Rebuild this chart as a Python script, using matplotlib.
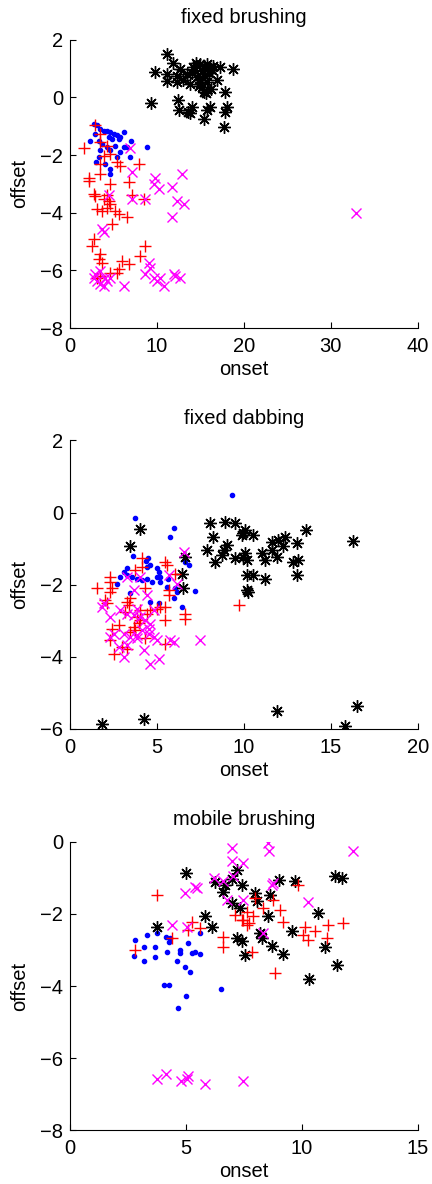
import numpy as np
import matplotlib
matplotlib.use('Agg')
import matplotlib.pyplot as plt

plt.rcParams['font.family'] = ['Liberation Sans', 'DejaVu Sans']

# ---------------- fixed brushing ----------------
fb_black_x = [11.2, 9.74, 11.85, 11.2, 11.2, 12.3, 12.3, 12.7, 13.8, 14.0, 14.2, 14.5, 15.0, 15.4, 15.75,
              16.1, 16.5, 17.3, 14.6, 15.0, 15.2, 15.5, 15.8, 16.0, 16.3, 14.8, 15.2, 15.4, 16.9, 14.4,
              13.5, 18.8, 9.3, 12.4, 12.5, 13.6, 13.8, 14.0, 15.4, 15.8, 16.1, 17.85, 18.05, 17.85, 17.7,
              15.6, 16.2, 13.0]
fb_black_y = [1.52, 0.88, 1.19, 0.82, 0.57, 0.55, 0.75, 1.0, 0.48, 0.85, 1.05, 1.2, 1.15, 1.1, 1.17,
              1.05, 1.1, 1.05, 0.7, 0.6, 0.9, 0.75, 0.55, 0.85, 0.95, 0.4, 0.36, 0.2, 0.6, 0.95,
              0.8, 0.97, -0.2, -0.08, -0.45, -0.5, -0.55, -0.35, -0.74, -0.44, -0.35, 0.2, -0.35, -0.52, -1.03,
              0.15, 0.3, 0.6]
fb_blue_x = [2.74, 3.12, 3.5, 3.88, 4.27, 4.65, 5.03, 5.42, 5.8, 6.18, 4.46, 4.84, 5.6, 7.06, 2.28, 2.93,
             3.3, 3.7, 3.42, 4.27, 4.65, 5.22, 6.18, 6.56, 8.86, 6.95, 5.8, 5.42, 3.0, 4.08, 4.65, 4.57, 3.3]
fb_blue_y = [-0.92, -0.97, -1.09, -1.15, -1.15, -1.2, -1.26, -1.32, -1.38, -1.2, -1.38, -1.44, -1.44, -1.5,
             -1.5, -1.26, -1.5, -1.61, -1.84, -1.73, -1.84, -1.67, -1.73, -1.73, -1.73, -2.05, -1.9, -2.08,
             -2.25, -2.31, -2.48, -2.65, -2.08]
fb_red_x = [2.86, 1.59, 3.5, 3.5, 4.27, 4.65, 3.88, 3.5, 5.42, 5.8, 7.9, 3.5, 2.16, 2.16, 4.65, 6.75,
            2.73, 2.93, 3.88, 4.46, 4.65, 3.12, 3.69, 4.27, 5.22, 5.6, 6.56, 4.84, 2.73, 2.55, 3.5, 3.31,
            3.69, 5.99, 6.75, 5.6, 4.65, 3.12, 3.5, 5.42, 8.09, 8.67, 7.14, 8.48, 4.27]
fb_red_y = [-0.95, -1.76, -1.26, -1.55, -1.67, -1.96, -2.02, -2.31, -2.25, -2.37, -2.31, -2.65, -2.8,
            -2.89, -3.0, -2.95, -3.35, -3.41, -3.52, -3.58, -3.7, -3.87, -3.93, -3.82, -3.93, -4.05,
            -4.16, -4.4, -4.91, -5.15, -5.44, -5.61, -5.73, -5.67, -5.78, -5.96, -6.08, -6.25, -6.2,
            -6.08, -5.5, -5.15, -3.38, -3.52, -3.38]
fb_mag_x = [6.95, 7.1, 9.8, 12.9, 32.9, 9.62, 10.2, 11.73, 12.3, 13.07, 11.73, 3.69, 3.88, 7.14, 8.67,
            4.46, 9.05, 9.24, 8.67, 9.62, 10.0, 10.4, 10.77, 11.92, 12.1, 12.7, 6.18, 2.73, 3.12, 3.5,
            3.88, 4.27, 4.65, 3.5, 4.08, 2.93]
fb_mag_y = [-1.76, -2.6, -2.8, -2.65, -4.01, -3.0, -3.18, -3.12, -3.58, -3.7, -4.16, -4.57, -4.68, -3.52,
            -3.52, -3.38, -5.73, -5.9, -6.13, -6.25, -6.37, -6.25, -6.54, -6.13, -6.2, -6.25, -6.54,
            -6.25, -6.37, -6.48, -6.54, -6.37, -6.25, -6.02, -6.25, -6.13]

# ---------------- fixed dabbing ----------------
fd_black_x = [4.04, 3.47, 8.06, 8.92, 9.5, 8.25, 7.87, 8.83, 9.02, 8.73, 8.35, 9.5, 9.88, 10.07, 9.95,
              6.63, 6.44, 1.85, 4.23, 6.5, 10.17, 9.97, 10.55, 13.6, 16.28, 10.07, 10.17, 11.03, 11.22,
              11.6, 11.6, 11.98, 11.89, 12.37, 12.27, 13.04, 12.84, 13.13, 10.17, 10.55, 11.22, 13.04,
              10.26, 11.89, 16.48, 15.8]
fd_black_y = [-0.46, -0.92, -0.29, -0.25, -0.29, -0.67, -1.04, -1.04, -0.9, -1.18, -1.36, -1.27, -0.62,
              -0.48, -1.22, -1.22, -1.69, -5.86, -5.72, -2.1, -2.15, -0.57, -0.62, -0.48, -0.8, -1.13,
              -1.31, -1.13, -1.31, -0.81, -1.04, -0.76, -1.22, -0.67, -0.94, -0.85, -1.36, -1.31, -1.73,
              -1.73, -1.83, -1.73, -2.2, -5.49, -5.35, -5.91]
fd_blue_x = [9.3, 3.76, 5.96, 5.73, 3.62, 4.47, 4.39, 4.58, 4.43, 3.09, 3.28, 5.0, 5.1, 5.19, 6.82, 6.63,
             5.61, 2.71, 2.9, 3.28, 3.57, 3.86, 4.14, 4.43, 4.71, 5.0, 5.19, 5.58, 6.06, 6.15, 7.2, 5.96,
             4.62, 3.43, 6.44, 5.1]
fd_blue_y = [0.48, -0.15, -0.43, -0.68, -1.2, -1.27, -1.33, -1.45, -1.5, -1.64, -1.55, -1.55, -1.64,
             -1.78, -1.45, -1.36, -1.83, -1.97, -1.78, -1.73, -1.78, -1.83, -1.87, -1.85, -1.92, -1.78,
             -1.92, -2.06, -2.1, -2.2, -2.17, -2.38, -2.48, -2.22, -2.62, -2.52]
fd_red_x = [1.56, 2.32, 2.42, 2.32, 2.13, 2.04, 3.28, 3.47, 3.38, 3.19, 4.43, 4.62, 5.0, 5.19, 5.48,
            5.48, 5.67, 5.67, 6.63, 6.63, 3.86, 4.04, 3.95, 3.66, 3.76, 3.47, 2.8, 2.42, 2.32, 2.51,
            2.99, 3.28, 4.33, 5.48, 9.7, 4.04, 4.33, 4.14, 3.76, 4.14, 5.48, 5.58, 6.05, 2.32]
fd_red_y = [-2.1, -1.92, -2.1, -2.2, -2.52, -2.43, -2.48, -2.38, -2.57, -2.75, -2.8, -2.71, -2.66,
            -2.62, -2.62, -2.98, -2.15, -2.29, -2.8, -2.94, -2.89, -2.98, -3.07, -3.17, -3.26, -3.31,
            -3.12, -3.22, -3.54, -3.91, -3.73, -3.77, -3.49, -3.63, -2.55, -2.71, -2.1, -1.27, -1.59,
            -1.5, -1.36, -1.45, -1.69, -1.78]
fd_mag_x = [1.94, 1.85, 2.32, 2.9, 3.28, 3.66, 4.04, 4.33, 4.62, 3.09, 3.47, 3.86, 4.52, 4.81, 5.0,
            5.77, 5.96, 7.49, 2.8, 3.28, 3.09, 4.23, 5.1, 4.62, 3.86, 4.14, 4.52, 2.32, 2.51, 3.86, 4.81,
            6.15, 3.66, 4.43, 6.53, 5.67, 3.28, 4.04]
fd_mag_y = [-2.52, -2.62, -2.89, -2.71, -2.8, -2.85, -2.89, -2.98, -3.08, -3.36, -3.45, -3.4, -3.36,
            -3.45, -3.54, -3.54, -3.59, -3.52, -3.73, -3.68, -4.0, -3.82, -4.05, -4.19, -3.49, -3.26,
            -3.22, -3.45, -3.36, -2.66, -2.71, -1.97, -2.15, -2.29, -1.08, -1.73, -1.78, -1.78]

# ---------------- mobile brushing ----------------
mb_black_x = [5.02, 3.75, 5.83, 6.12, 6.26, 6.62, 6.69, 6.98, 7.2, 7.42, 6.98, 7.35, 7.2, 7.42, 7.55,
              9.0, 9.71, 11.43, 11.72, 7.99, 8.63, 8.06, 8.56, 10.71, 9.57, 8.2, 8.27, 8.7, 9.2, 11.0,
              11.5, 10.31]
mb_black_y = [-0.86, -2.35, -2.07, -2.37, -1.12, -1.38, -1.19, -1.03, -0.77, -1.19, -1.7, -1.84, -2.67,
              -2.74, -3.14, -1.05, -1.1, -0.96, -1.0, -1.43, -1.47, -1.65, -2.07, -1.96, -2.46, -2.53,
              -2.67, -2.9, -3.1, -2.91, -3.42, -3.79]
mb_blue_x = [2.82, 3.34, 3.75, 4.15, 4.25, 4.33, 5.11, 5.62, 2.75, 3.18, 3.68, 4.18, 4.76, 4.76, 5.26,
             5.4, 5.62, 3.21, 3.65, 4.61, 4.97, 5.16, 4.04, 4.26, 5.01, 4.64, 6.51]
mb_blue_y = [-2.72, -2.58, -2.53, -2.63, -2.77, -2.67, -2.81, -2.53, -3.16, -2.91, -2.91, -3.05, -3.09,
             -3.0, -3.09, -3.05, -3.1, -3.3, -3.18, -3.3, -3.47, -3.62, -3.97, -3.97, -4.27, -4.6, -4.08]
mb_red_x = [3.75, 5.26, 5.11, 5.62, 4.4, 2.82, 6.62, 6.62, 7.13, 7.42, 7.63, 9.85, 7.99, 8.34, 9.06,
            9.2, 10.14, 10.55, 11.14, 11.79, 10.06, 10.28, 11.07, 8.85, 7.84, 7.91, 7.7, 7.63, 7.48, 8.77]
mb_red_y = [-1.47, -2.21, -2.44, -2.4, -2.67, -3.0, -2.63, -2.91, -2.03, -2.16, -2.3, -1.19, -1.56,
            -1.84, -1.89, -2.21, -2.35, -2.48, -2.3, -2.26, -2.58, -2.72, -2.67, -3.65, -3.05, -2.07,
            -2.26, -1.94, -2.16, -1.61]
mb_mag_x = [6.98, 6.98, 7.48, 4.98, 5.4, 5.48, 4.4, 5.05, 6.2, 6.62, 7.05, 7.48, 6.76, 8.56, 8.6, 12.22,
            8.7, 8.77, 10.28, 8.34, 3.75, 4.15, 4.79, 5.07, 5.03, 5.83, 7.48]
mb_mag_y = [-0.17, -0.54, -0.59, -1.43, -1.26, -1.29, -2.3, -2.37, -1.0, -1.1, -0.96, -1.61, -1.61,
            -0.03, -0.26, -0.26, -1.19, -1.15, -1.68, -2.53, -6.57, -6.43, -6.64, -6.5, -6.58, -6.71,
            -6.64]

panels = [
    ('fixed brushing', fb_blue_x, fb_blue_y, fb_black_x, fb_black_y, fb_red_x, fb_red_y, fb_mag_x, fb_mag_y,
     (0, 40), [0, 10, 20, 30, 40], (-8, 2), [-8, -6, -4, -2, 0, 2]),
    ('fixed dabbing', fd_blue_x, fd_blue_y, fd_black_x, fd_black_y, fd_red_x, fd_red_y, fd_mag_x, fd_mag_y,
     (0, 20), [0, 5, 10, 15, 20], (-6, 2), [-6, -4, -2, 0, 2]),
    ('mobile brushing', mb_blue_x, mb_blue_y, mb_black_x, mb_black_y, mb_red_x, mb_red_y, mb_mag_x, mb_mag_y,
     (0, 15), [0, 5, 10, 15], (-8, 0), [-8, -6, -4, -2, 0]),
]

fs = 14.5
fig = plt.figure(figsize=(4.32, 11.84), dpi=100)
bottoms = [0.7228, 0.3843, 0.0453]
for (title, bx, by, kx, ky, rx, ry, mx, my, xl, xt, yl, yt), b in zip(panels, bottoms):
    ax = fig.add_axes([0.162, b, 0.805, 0.2437])
    ax.plot(bx, by, '.', color='#0000ff', markersize=6)
    ax.plot(kx, ky, linestyle='none', marker=(8, 2, 0), color='k', markersize=9, markeredgewidth=1.0)
    ax.plot(rx, ry, '+', color='#ff0000', markersize=9, markeredgewidth=1.0)
    ax.plot(mx, my, 'x', color='#ff00ff', markersize=6.8, markeredgewidth=1.0)
    ax.set_xlim(xl)
    ax.set_ylim(yl)
    ax.set_xticks(xt)
    ax.set_yticks(yt)
    ax.spines['top'].set_visible(False)
    ax.spines['right'].set_visible(False)
    ax.tick_params(direction='in', length=4, labelsize=fs)
    ax.tick_params(axis='x', pad=6.4)
    ax.tick_params(axis='y', pad=5)
    ax.set_title(title, fontsize=fs, pad=12)
    ax.set_xlabel('onset', fontsize=fs, labelpad=3)
    ax.set_ylabel('offset', fontsize=fs, labelpad=8)

plt.savefig('out.png', dpi=100)
